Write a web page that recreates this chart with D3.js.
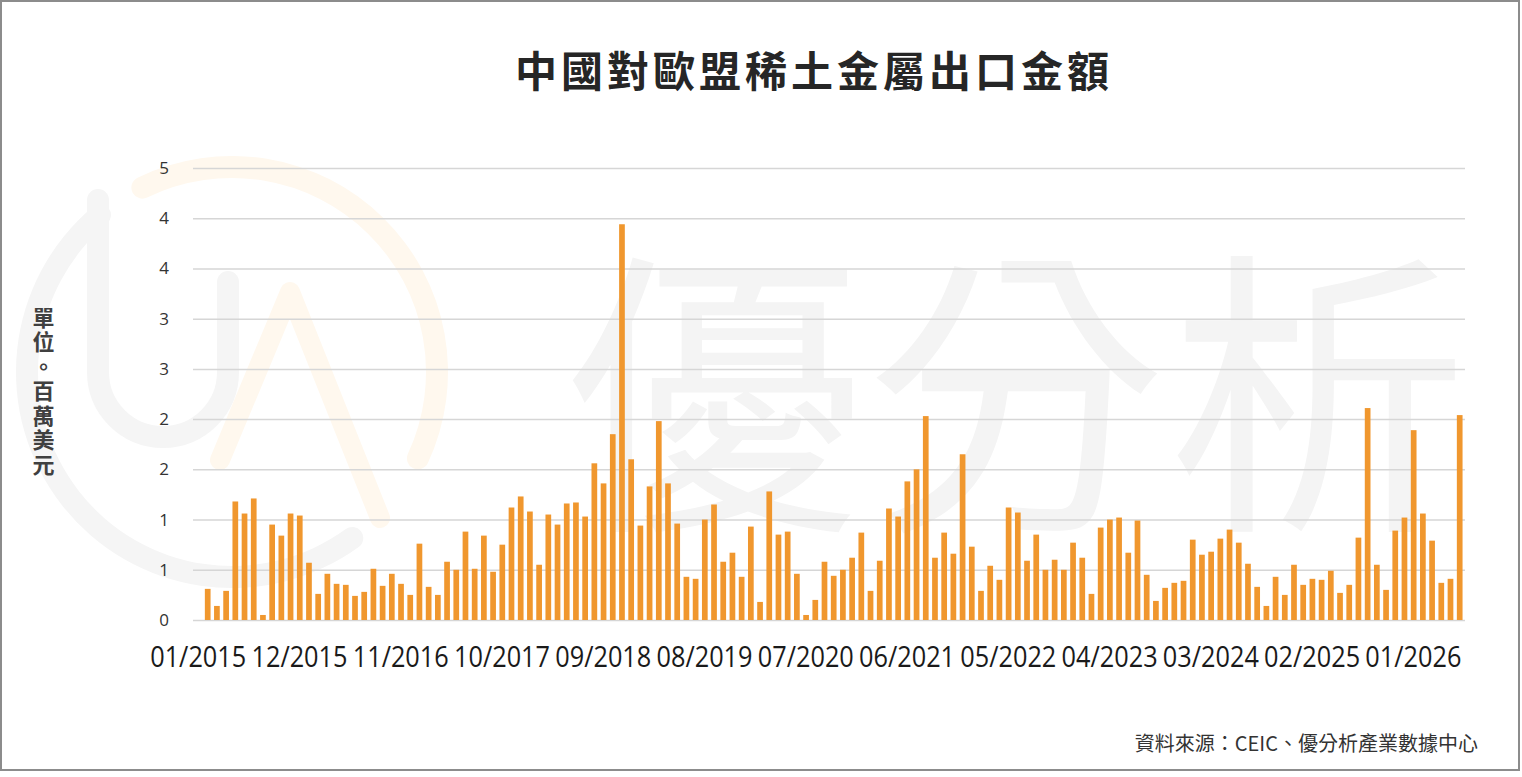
<!DOCTYPE html>
<html>
<head>
<meta charset="utf-8">
<script src="https://cdn.jsdelivr.net/npm/d3@7"></script>
<style>
  html, body { margin: 0; padding: 0; background: #fff; }
  svg { display: block; }
</style>
</head>
<body>
<svg id="chart" width="1522" height="777"></svg>
<script>
// ---------------- data ----------------
const title = "中國對歐盟稀土金屬出口金額";
const yAxisTitle = "單位。百萬美元";
const sourceText = "資料來源：CEIC、優分析產業數據中心";
const watermarkText = "優分析";

const startMonth = new Date(2015, 0, 1);
const endMonthExclusive = new Date(2026, 5, 1);

const values = [
  0.31, 0.14, 0.29, 1.18, 1.06, 1.21, 0.05, 0.95, 0.84, 1.06, 1.04, 0.57,
  0.26, 0.46, 0.36, 0.35, 0.24, 0.28, 0.51, 0.34, 0.46, 0.36, 0.25,
  0.76, 0.33, 0.25, 0.58, 0.50, 0.88, 0.51, 0.84, 0.48, 0.75, 1.12, 1.23,
  1.08, 0.55, 1.05, 0.95, 1.16, 1.17, 1.03, 1.56, 1.36, 1.85, 3.94,
  1.60, 0.94, 1.33, 1.98, 1.36, 0.96, 0.43, 0.41, 1.00, 1.15, 0.58, 0.67,
  0.43, 0.93, 0.18, 1.28, 0.85, 0.88, 0.46, 0.05, 0.20, 0.58, 0.44, 0.50,
  0.62, 0.87, 0.29, 0.59, 1.11, 1.03, 1.38, 1.50, 2.03, 0.62, 0.87, 0.66,
  1.65, 0.73, 0.29, 0.54, 0.40, 1.12, 1.07, 0.59, 0.85, 0.50, 0.60,
  0.50, 0.77, 0.62, 0.26, 0.92, 1.00, 1.02, 0.67, 0.99, 0.45, 0.19, 0.32,
  0.37, 0.39, 0.80, 0.65, 0.68, 0.81, 0.90, 0.77, 0.56, 0.33, 0.14, 0.43,
  0.25, 0.55, 0.35, 0.41, 0.40, 0.49, 0.27, 0.35, 0.82, 2.11, 0.55, 0.30,
  0.89, 1.02, 1.89, 1.06, 0.79, 0.37, 0.41, 2.04
];

const xTickLabels = ["01/2015","12/2015","11/2016","10/2017","09/2018","08/2019",
  "07/2020","06/2021","05/2022","04/2023","03/2024","02/2025","01/2026"];
const yTickValues = [0, 0.5, 1, 1.5, 2, 2.5, 3, 3.5, 4, 4.5];
const yTickLabels = ["0","1","1","2","2","3","3","4","4","5"];

// ---------------- setup ----------------
const fmt = d3.timeFormat("%m/%Y");
const categories = d3.timeMonth.range(startMonth, endMonthExclusive).map(fmt);
const data = categories.map((c, i) => ({ cat: c, v: values[i] }));

const svg = d3.select("#chart");
const CJK = "'Noto Sans CJK TC', 'Noto Sans CJK SC', sans-serif";
const LAT = "'Open Sans', 'Noto Sans', sans-serif";

// border
svg.append("rect").attr("x", 1).attr("y", 1).attr("width", 1518).attr("height", 769)
  .attr("fill", "#fff").attr("stroke", "#8c8c8c").attr("stroke-width", 2);

// ---------------- watermark ----------------
const wm = svg.append("g").attr("class", "watermark");
const deg = Math.PI / 180;
const ringC = [232, 372], ringR = 205, ringW = 22;
const arcGen = d3.arc().innerRadius(ringR - ringW / 2).outerRadius(ringR + ringW / 2).cornerRadius(ringW / 2);
wm.append("path").attr("transform", `translate(${ringC})`)
  .attr("d", arcGen({ startAngle: -219 * deg, endAngle: -37 * deg }))
  .attr("fill", "#f5f5f5");
wm.append("path").attr("transform", `translate(${ringC})`)
  .attr("d", arcGen({ startAngle: -29 * deg, endAngle: 118 * deg }))
  .attr("fill", "#fff8ee");
// inner U
wm.append("path")
  .attr("d", "M98,200 L98,372 A65,65 0 0 0 228,372 L228,282")
  .attr("fill", "none").attr("stroke", "#f5f5f5").attr("stroke-width", 22)
  .attr("stroke-linecap", "round");
// A
wm.append("path")
  .attr("d", "M220,460 L290,292 L380,518")
  .attr("fill", "none").attr("stroke", "#fff8ee").attr("stroke-width", 20)
  .attr("stroke-linecap", "round").attr("stroke-linejoin", "round");
wm.append("text")
  .attr("x", 1017).attr("y", 508)
  .attr("text-anchor", "middle")
  .style("font-family", CJK).style("font-size", "300px").style("font-weight", 400)
  .style("letter-spacing", "2px")
  .attr("fill", "#f4f4f4")
  .text(watermarkText);

// ---------------- scales ----------------
const x = d3.scaleBand().domain(categories).range([203.1, 1464.3])
  .paddingInner(0.38).paddingOuter(0.19);
const y = d3.scaleLinear().domain([0, 4.5]).range([620, 168]);

// gridlines
const yAxis = d3.axisLeft(y).tickValues(yTickValues)
  .tickSize(-(1465 - 193)).tickPadding(24)
  .tickFormat((d, i) => yTickLabels[i]);
const gy = svg.append("g").attr("transform", "translate(193,0)").call(yAxis);
gy.select(".domain").remove();
gy.selectAll(".tick line").attr("stroke", "#d6d6d6").attr("stroke-width", 1.5);
gy.selectAll(".tick text")
  .style("font-family", LAT).style("font-size", "17px").attr("fill", "#333");

// bars
svg.append("g").selectAll("rect").data(data).join("rect")
  .attr("x", d => x(d.cat))
  .attr("width", x.bandwidth())
  .attr("y", d => y(d.v))
  .attr("height", d => y(0) - y(d.v))
  .attr("fill", "#F0972E");

// x axis labels
const tickCats = categories.filter(c => xTickLabels.includes(c));
const xAxis = d3.axisBottom(x).tickValues(tickCats).tickSize(0).tickPadding(0)
  .tickFormat(c => xTickLabels[xTickLabels.indexOf(c)]);
const gx = svg.append("g").attr("transform", "translate(-9.5,646)").call(xAxis);
gx.select(".domain").remove();
gx.selectAll(".tick text")
  .attr("dy", "0.71em").attr("y", 0)
  .style("font-family", LAT).style("font-size", "29px").attr("fill", "#1a1a1a")
  .attr("textLength", 96).attr("lengthAdjust", "spacingAndGlyphs");

// title
svg.append("text").attr("x", 814).attr("y", 87).attr("text-anchor", "middle")
  .style("font-family", CJK).style("font-size", "42px").style("font-weight", 700)
  .style("letter-spacing", "4px").attr("fill", "#262626")
  .text(title);

// y-axis title (vertical)
svg.append("text").attr("x", 43.5).attr("y", 392)
  .attr("writing-mode", "vertical-rl").attr("text-anchor", "middle")
  .style("font-family", CJK).style("font-size", "22px").style("font-weight", 700)
  .style("letter-spacing", "2.5px").attr("fill", "#404040")
  .text(yAxisTitle);

// source
svg.append("text").attr("x", 1478).attr("y", 751).attr("text-anchor", "end")
  .style("font-family", CJK).style("font-size", "20px").attr("fill", "#333")
  .text(sourceText);
</script>
</body>
</html>
